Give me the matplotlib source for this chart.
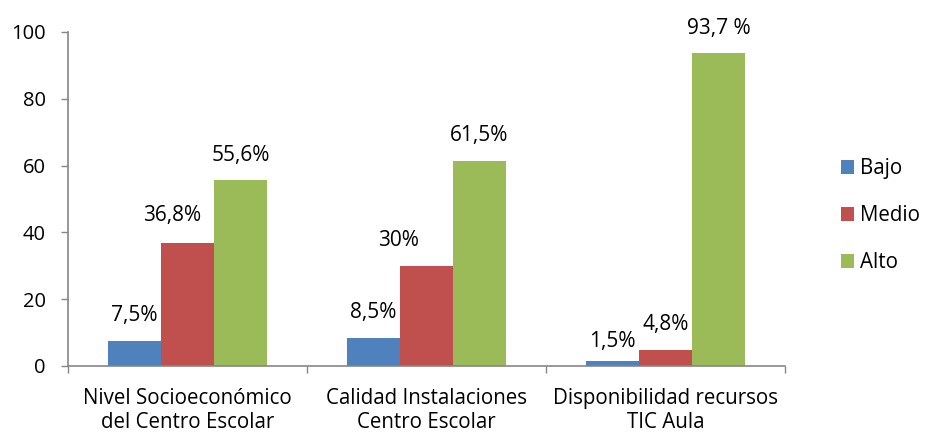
import matplotlib
matplotlib.use("Agg")
import matplotlib.pyplot as plt
import numpy as np

plt.rcParams['font.family'] = ['Open Sans', 'DejaVu Sans']

categorias = ["Nivel Socioeconómico\ndel Centro Escolar",
              "Calidad Instalaciones\nCentro Escolar",
              "Disponibilidad recursos\nTIC Aula"]
bajo = [7.5, 8.5, 1.5]
medio = [36.8, 30, 4.8]
alto = [55.6, 61.5, 93.7]
etiquetas_bajo = ["7,5%", "8,5%", "1,5%"]
etiquetas_medio = ["36,8%", "30%", "4,8%"]
etiquetas_alto = ["55,6%", "61,5%", "93,7 %"]

series = [("Bajo", bajo, etiquetas_bajo, "#4F81BD"),
          ("Medio", medio, etiquetas_medio, "#C0504D"),
          ("Alto", alto, etiquetas_alto, "#9BBB59")]

# desplazamiento (px) de algunas etiquetas respecto a su barra
desplaz = {("Medio", 0): (-15, 3), ("Medio", 1): (-28, 0), ("Bajo", 2): (0, -6)}

gris = "#868686"
fig = plt.figure(figsize=(9.26, 4.34), dpi=100)
ax = fig.add_axes([0.0734, 0.1567, 0.7743, 0.7696])

x = np.arange(len(categorias))
ancho = 0.222
for i, (nombre, valores, etiquetas, color) in enumerate(series):
    pos = x + (i - 1) * ancho
    ax.bar(pos, valores, ancho, color=color, label=nombre)
    for j, (p, v, t) in enumerate(zip(pos, valores, etiquetas)):
        dx, dy = desplaz.get((nombre, j), (0, 0))
        ax.annotate(t, (p, v), xytext=(dx * 0.72, 18 + dy * 0.72),
                    textcoords="offset points",
                    ha="center", va="center", fontsize=15, color="black")

ax.set_xlim(-0.5, 2.5)
ax.set_ylim(0, 100)
ax.set_yticks(range(0, 101, 20))
ax.tick_params(axis="y", length=5, width=1, color=gris, pad=11, labelsize=14.5)

ax.set_xticks(x)
ax.set_xticklabels(categorias, fontsize=14.8, linespacing=1.2)
ax.tick_params(axis="x", length=0, pad=16)
ax.set_xticks([-0.5, 0.5, 1.5, 2.5], minor=True)
ax.tick_params(axis="x", which="minor", length=5, width=1, color=gris)

for s in ["top", "right"]:
    ax.spines[s].set_visible(False)
for s in ["left", "bottom"]:
    ax.spines[s].set_color(gris)
    ax.spines[s].set_linewidth(1.2)

ax.legend(loc="center left", bbox_to_anchor=(1.078, 0.45), frameon=False,
          fontsize=14.8, handlelength=0.66, handleheight=0.66, handletextpad=0.25,
          labelspacing=1.25, borderpad=0, borderaxespad=0)

fig.savefig("out.png", dpi=100)
